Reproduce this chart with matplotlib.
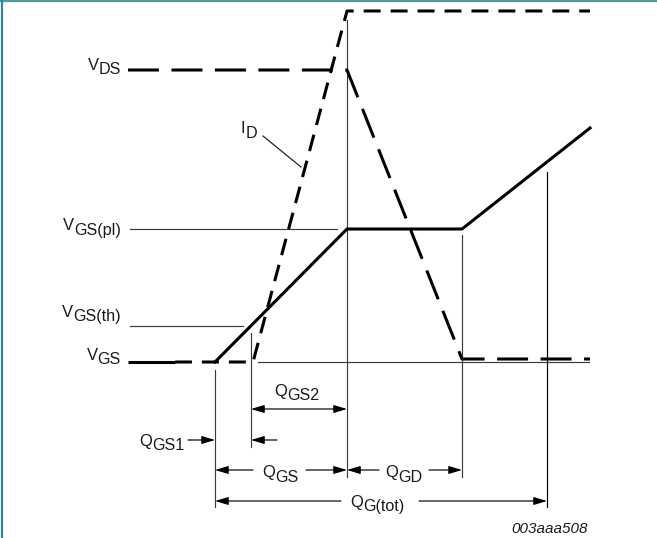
import matplotlib
matplotlib.use('Agg')
import matplotlib.pyplot as plt
from matplotlib.patches import FancyArrowPatch

plt.rcParams['font.family'] = ['Liberation Sans', 'DejaVu Sans']
plt.rcParams['lines.scale_dashes'] = False

# ---- schematic charge points (arbitrary units) ----
Q_START = 0
Q_SOLID_END = 47
Q_GS1 = 87
Q_TH = 123
Q_PL_START = 219
Q_PL_END = 334
Q_TOT = 419
Q_END = 462

# ---- schematic levels (arbitrary units) ----
V_BASE = 0
V_TH = 36
V_PL = 133
V_GS_END = 234
V_DS_HIGH = 292
V_DS_LOW = 3
I_D_MAX = 351

vgs_flat_q = [Q_START, Q_SOLID_END]
vgs_flat_v = [V_BASE, V_BASE]
vgs_q = [Q_GS1, Q_PL_START, Q_PL_END, Q_END]
vgs_v = [V_BASE, V_PL, V_PL, V_GS_END]
id_q = [Q_SOLID_END, Q_TH + 2, Q_PL_START, Q_END]
id_v = [V_BASE, V_BASE, I_D_MAX, I_D_MAX]
vds_q = [Q_START, Q_PL_START, Q_PL_END, Q_END]
vds_v = [V_DS_HIGH, V_DS_HIGH, V_DS_LOW, V_DS_LOW]

# ---- layout helpers (1 data unit = 1 pixel) ----
X0, Y0 = 128, 362
def px(x):
    return x - X0
def py(y):
    return Y0 - y

fig = plt.figure(figsize=(6.57, 5.38), dpi=100)
ax = fig.add_axes([0, 0, 1, 1])
ax.set_xlim(px(0), px(657))
ax.set_ylim(py(538), py(0))
ax.axis('off')

THICK = 2.2
THIN = 0.85
DARK = '#1a1a1a'
GREY = '#3c3c3c'

# frame (top and left)
ax.plot([px(0), px(657)], [py(1), py(1)], color='#4f9aa3', lw=1.6, solid_capstyle='butt')
ax.plot([px(1.5), px(1.5)], [py(0), py(538)], color='#2f86a0', lw=1.6, solid_capstyle='butt')

# thin reference lines
ax.plot([px(130), px(337)], [V_PL, V_PL], color=GREY, lw=THIN)
ax.plot([px(130), px(243)], [V_TH, V_TH], color=GREY, lw=THIN)
ax.plot([px(258), px(589)], [V_BASE, V_BASE], color=GREY, lw=THIN)

# vertical markers
ax.plot([Q_GS1, Q_GS1], [py(370), py(507)], color=GREY, lw=THIN)
ax.plot([Q_TH, Q_TH], [py(333), py(447)], color=GREY, lw=THIN)
ax.plot([Q_PL_START, Q_PL_START], [py(20), py(477)], color=GREY, lw=THIN)
ax.plot([Q_PL_END, Q_PL_END], [py(235), py(477)], color=GREY, lw=THIN)
ax.plot([Q_TOT, Q_TOT], [py(172), py(507)], color='black', lw=THIN)

# waveforms
ax.plot(vgs_flat_q, vgs_flat_v, color='black', lw=THICK, solid_capstyle='butt')
ax.plot(vgs_q, vgs_v, color='black', lw=THICK, solid_joinstyle='miter')
ax.plot(id_q, id_v, color='black', lw=THICK, dashes=(12.2, 7.2), dash_capstyle='butt')
ax.plot(vds_q, vds_v, color='black', lw=THICK, dashes=(22.3, 9.0), dash_capstyle='butt')

# I_D leader
ax.plot([px(263), px(301)], [py(136), py(167)], color=DARK, lw=THIN)

fig.canvas.draw()
R = fig.canvas.get_renderer()

def label(x, y, main, sub, ha='left', fs=12, sfs=11.6, drop=4.5):
    t = ax.text(x, y, main, fontsize=fs, ha='left', va='baseline', color=DARK)
    w = t.get_window_extent(R).width
    s = ax.text(x + w, y - drop, sub, fontsize=sfs, ha='left', va='baseline', color=DARK)
    ws = s.get_window_extent(R).width
    shift = 0
    if ha == 'right':
        shift = -(w + ws)
    elif ha == 'center':
        shift = -(w + ws) / 2
    t.set_x(x + shift)
    s.set_x(x + w + shift)

label(px(121), py(70), 'V', 'DS', ha='right')
label(px(121), py(230), 'V', 'GS(pl)', ha='right')
label(px(121), py(317), 'V', 'GS(th)', ha='right')
label(px(121), py(360), 'V', 'GS', ha='right')
label(px(241), py(133), 'I', 'D')
label(px(274), py(396), 'Q', 'GS2')
label(px(139), py(446), 'Q', 'GS1')
label(px(262), py(477), 'Q', 'GS')
label(px(385), py(477), 'Q', 'GD')
label(px(350), py(507), 'Q', 'G(tot)')

ax.text(px(588), py(533), '003aaa508', fontsize=11, style='italic', ha='right', va='baseline', color=DARK)

def arrow(x1, x2, y, style='-|>'):
    a = FancyArrowPatch((x1, y), (x2, y), arrowstyle=style + ',head_length=0.8,head_width=0.24',
                        mutation_scale=10, shrinkA=0, shrinkB=0, color='black', lw=THIN)
    ax.add_patch(a)

arrow(Q_TH, Q_PL_START, py(409), '<|-|>')
arrow(px(188), Q_GS1, py(440))
arrow(px(277), Q_TH, py(440))
arrow(px(253), Q_GS1, py(470))
arrow(px(306), Q_PL_START, py(470))
arrow(px(379), Q_PL_START, py(470))
arrow(px(429), Q_PL_END, py(470))
arrow(px(341), Q_GS1, py(501))
arrow(px(419), Q_TOT, py(501))

fig.savefig('out.png', dpi=100)
